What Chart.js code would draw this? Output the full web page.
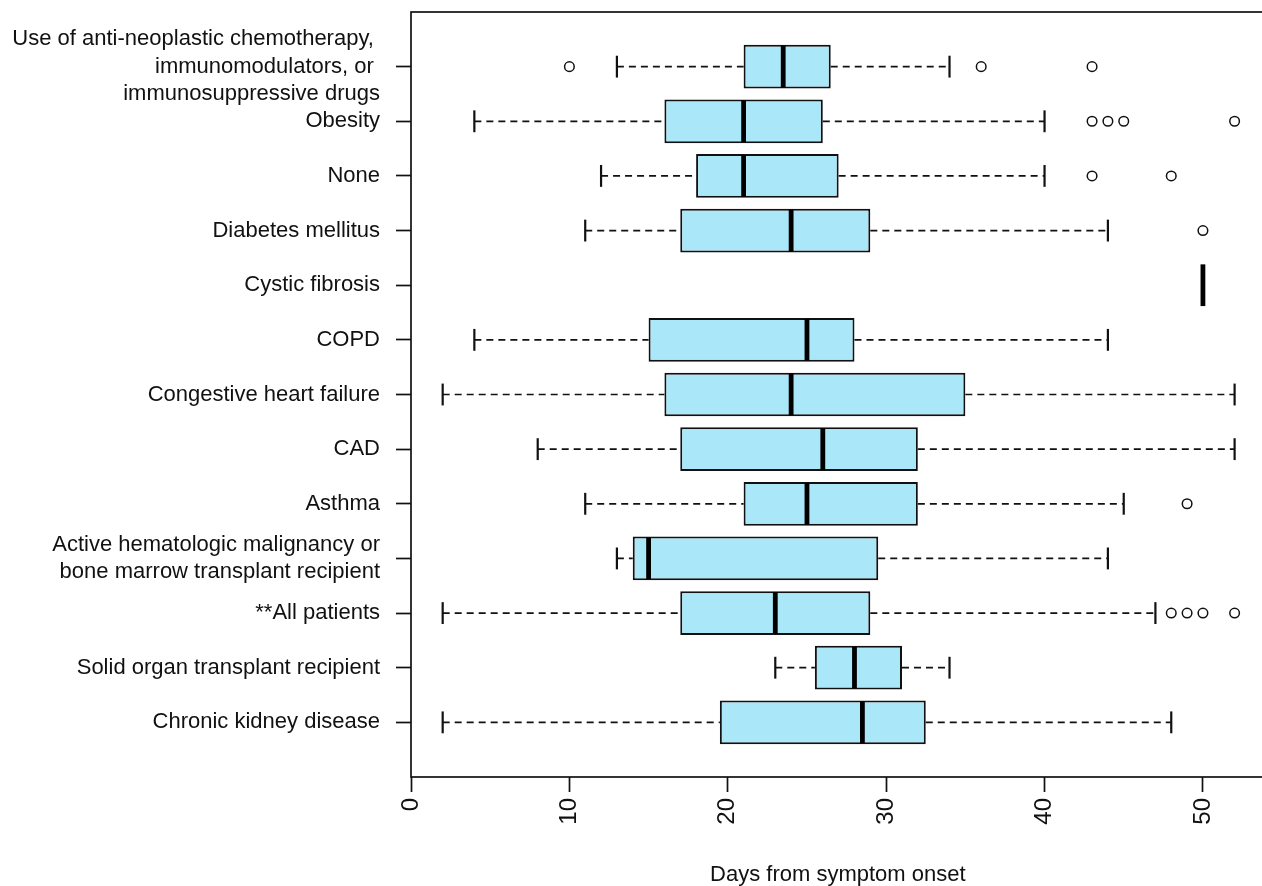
<!DOCTYPE html>
<html>
<head>
<meta charset="utf-8">
<script src="https://cdn.jsdelivr.net/npm/chart.js@4/dist/chart.umd.min.js"></script>
<style>
  html, body { margin: 0; padding: 0; background: #ffffff; overflow: hidden; }
  #wrap { width: 1271px; height: 886px; position: relative; }
</style>
</head>
<body>
<div id="wrap"><canvas id="chart"></canvas></div>
<script>
// Groups, listed from the bottom row to the top row
const categories = [
  "Chronic kidney disease",
  "Solid organ transplant recipient",
  "**All patients",
  ["Active hematologic malignancy or", "bone marrow transplant recipient"],
  "Asthma",
  "CAD",
  "Congestive heart failure",
  "COPD",
  "Cystic fibrosis",
  "Diabetes mellitus",
  "None",
  "Obesity",
  ["Use of anti-neoplastic chemotherapy, ", "immunomodulators, or ", "immunosuppressive drugs"]
];

// Five-number summaries (days from symptom onset)
const whiskerLow  = [2,    23,   2,  13,   11, 8,  2,  4,  50, 11, 12, 4,  13];
const q1          = [19.5, 25.5, 17, 14,   21, 17, 16, 15, 50, 17, 18, 16, 21];
const median      = [28.5, 28,   23, 15,   25, 26, 24, 25, 50, 24, 21, 21, 23.5];
const q3          = [32.5, 31,   29, 29.5, 32, 32, 35, 28, 50, 29, 27, 26, 26.5];
const whiskerHigh = [48,   34,   47, 44,   45, 52, 52, 44, 50, 44, 40, 40, 34];

// Points beyond the whiskers
const outliers = [
  [], [], [48, 49, 50, 52], [], [49], [], [], [], [], [50], [43, 48], [43, 44, 45, 52], [10, 36, 43]
];

// Axis tick values
const xTickValues = [0, 10, 20, 30, 40, 50];
const rowPositions = categories.map((_, i) => i + 1);

const BOX_FILL = "#a9e7f9";
const INK = "#111111";
const FONT = "'Liberation Sans', Arial, Helvetica, sans-serif";

const boxData = rowPositions.map((p, i) => ({ y: p, x: [q1[i], q3[i]] }));
const outlierData = [];
outliers.forEach((list, i) => list.forEach(v => outlierData.push({ x: v, y: rowPositions[i] })));

// Whiskers, staples, medians and the surrounding frame
const boxPlotParts = {
  id: "boxPlotParts",
  beforeDatasetsDraw(chart) {
    const { ctx, scales: { x, y } } = chart;
    const unit = Math.abs(y.getPixelForValue(1) - y.getPixelForValue(0));
    const staple = unit * 0.2;
    ctx.save();
    ctx.strokeStyle = INK;
    rowPositions.forEach((p, i) => {
      if (whiskerLow[i] === whiskerHigh[i]) return;
      const py = y.getPixelForValue(p);
      ctx.lineWidth = 1.7;
      ctx.setLineDash([7, 5]);
      [[whiskerLow[i], q1[i]], [q3[i], whiskerHigh[i]]].forEach(([a, b]) => {
        if (a === b) return;
        ctx.beginPath();
        ctx.moveTo(x.getPixelForValue(a), py);
        ctx.lineTo(x.getPixelForValue(b), py);
        ctx.stroke();
      });
      ctx.setLineDash([]);
      ctx.lineWidth = 2.2;
      [whiskerLow[i], whiskerHigh[i]].forEach(v => {
        const px = x.getPixelForValue(v);
        ctx.beginPath();
        ctx.moveTo(px, py - staple);
        ctx.lineTo(px, py + staple);
        ctx.stroke();
      });
    });
    ctx.restore();
  },
  afterDatasetsDraw(chart) {
    const { ctx, scales: { x, y }, chartArea } = chart;
    const unit = Math.abs(y.getPixelForValue(1) - y.getPixelForValue(0));
    const half = unit * 0.4;
    ctx.save();
    ctx.strokeStyle = "#000000";
    ctx.lineWidth = 4.8;
    ctx.lineCap = "butt";
    rowPositions.forEach((p, i) => {
      const py = y.getPixelForValue(p);
      const px = x.getPixelForValue(median[i]);
      ctx.beginPath();
      ctx.moveTo(px, py - half + 1);
      ctx.lineTo(px, py + half - 1);
      ctx.stroke();
    });
    ctx.lineWidth = 1.7;
    ctx.strokeStyle = INK;
    ctx.strokeRect(chartArea.left, chartArea.top, chartArea.right - chartArea.left, chartArea.bottom - chartArea.top);
    ctx.restore();
  }
};

function noEdgePadding(scale) {
  scale.paddingTop = 0;
  scale.paddingBottom = 0;
  scale.paddingLeft = 0;
  scale.paddingRight = 0;
}

new Chart(document.getElementById("chart"), {
  type: "bar",
  data: {
    datasets: [
      {
        type: "bar",
        indexAxis: "y",
        data: boxData,
        backgroundColor: BOX_FILL,
        borderColor: INK,
        borderWidth: 2,
        borderSkipped: false,
        categoryPercentage: 1,
        barPercentage: 0.8,
        order: 2
      },
      {
        type: "scatter",
        data: outlierData,
        pointStyle: "circle",
        pointRadius: 4.8,
        pointBorderWidth: 1.5,
        pointBorderColor: INK,
        pointBackgroundColor: "rgba(255,255,255,0)",
        order: 1
      }
    ]
  },
  options: {
    responsive: true,
    maintainAspectRatio: false,
    animation: false,
    layout: { padding: { top: 12, right: 0, left: 0, bottom: 0 } },
    plugins: { legend: { display: false }, tooltip: { enabled: false } },
    scales: {
      x: {
        type: "linear",
        position: "bottom",
        offset: false,
        min: 0,
        max: 53.9,
        afterBuildTicks: (scale) => { scale.ticks = xTickValues.map(v => ({ value: v })); },
        afterFit: (scale) => { scale.height = 109; noEdgePadding(scale); },
        grid: { display: true, offset: false, drawOnChartArea: false, drawTicks: true, tickLength: 15, tickWidth: 1.7, tickColor: INK },
        border: { display: false },
        ticks: {
          minRotation: 90,
          maxRotation: 90,
          autoSkip: false,
          padding: 6,
          color: INK,
          font: { family: FONT, size: 24 }
        },
        title: {
          display: true,
          text: "Days from symptom onset",
          color: INK,
          font: { family: FONT, size: 22 },
          padding: { top: 0, bottom: -2.5 }
        }
      },
      y: {
        type: "linear",
        position: "left",
        offset: false,
        min: 0,
        max: 14,
        afterBuildTicks: (scale) => { scale.ticks = rowPositions.map(v => ({ value: v })); },
        afterFit: (scale) => { scale.width = 411; noEdgePadding(scale); },
        grid: { display: true, offset: false, drawOnChartArea: false, drawTicks: true, tickLength: 15, tickWidth: 1.7, tickColor: INK },
        border: { display: false },
        ticks: {
          autoSkip: false,
          padding: 16,
          color: INK,
          font: { family: FONT, size: 22, lineHeight: 1.26 },
          callback: (value) => categories[value - 1]
        }
      }
    }
  },
  plugins: [boxPlotParts]
});
</script>
</body>
</html>
